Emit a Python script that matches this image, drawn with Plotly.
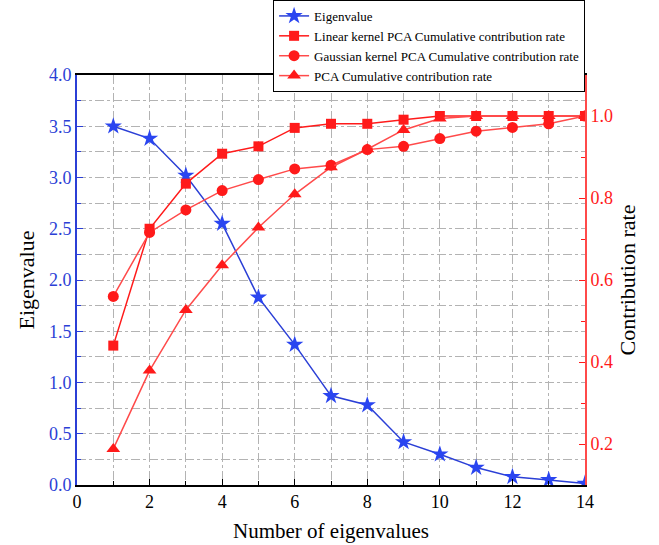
import plotly.graph_objects as go

# Number of eigenvalues retained
n = list(range(1, 15))

# Eigenvalue of each component
eigenvalue = [3.50, 3.38, 3.02, 2.55, 1.83, 1.37, 0.87, 0.78, 0.42, 0.30, 0.17, 0.08, 0.05, 0.015]

# Cumulative contribution rates
linear_kpca = [0.44, 0.725, 0.835, 0.908, 0.926, 0.971, 0.981, 0.981, 0.991, 1.0, 1.0, 1.0, 1.0, 1.0]
gaussian_kpca = [0.56, 0.716, 0.771, 0.818, 0.845, 0.871, 0.880, 0.918, 0.926, 0.945, 0.963, 0.972, 0.981, 1.0]
pca = [0.188, 0.379, 0.527, 0.636, 0.728, 0.809, 0.875, 0.919, 0.966, 0.994, 1.0, 1.0, 1.0, 1.0]

BLUE = "#2b3fd6"
BLUE_MK = "#2a45f0"
RED = "#ff1a1a"
RED_L = "#ff4a4a"
FONT = "Liberation Serif"
GRID = "#b3b3b3"

fig = go.Figure()

fig.add_trace(go.Scatter(
    x=n, y=eigenvalue, name="Eigenvalue", mode="lines+markers",
    line=dict(color=BLUE, width=1.5),
    marker=dict(symbol="star", size=13, color=BLUE_MK),
    yaxis="y",
))
fig.add_trace(go.Scatter(
    x=n, y=linear_kpca, name="Linear kernel PCA Cumulative contribution rate",
    mode="lines+markers",
    line=dict(color=RED, width=1.5),
    marker=dict(symbol="square", size=10, color=RED),
    yaxis="y2",
))
fig.add_trace(go.Scatter(
    x=n, y=gaussian_kpca, name="Gaussian kernel PCA Cumulative contribution rate",
    mode="lines+markers",
    line=dict(color=RED_L, width=1.5),
    marker=dict(symbol="circle", size=11, color=RED),
    yaxis="y2",
))
fig.add_trace(go.Scatter(
    x=n, y=pca, name="PCA Cumulative contribution rate",
    mode="lines+markers",
    line=dict(color=RED_L, width=1.5),
    marker=dict(symbol="triangle-up", size=12, color=RED),
    yaxis="y2",
))

grid = dict(showgrid=True, gridcolor=GRID, griddash="dashdot", gridwidth=1)

fig.update_layout(
    width=659, height=545,
    margin=dict(l=77, r=74, t=75, b=60, autoexpand=False),
    paper_bgcolor="white", plot_bgcolor="white",
    font=dict(family=FONT, size=16, color="black"),
    showlegend=True,
    legend=dict(
        x=0.386, y=1.183, xanchor="left", yanchor="top",
        bgcolor="white", bordercolor="black", borderwidth=1,
        font=dict(family=FONT, size=13, color="black"),
        tracegroupgap=0, itemwidth=30,
    ),
    xaxis=dict(
        range=[0, 14], dtick=2, tick0=0,
        showline=True, linecolor="black", linewidth=1.5, mirror=True,
        ticks="inside", ticklen=6, tickcolor="black",
        tickfont=dict(family=FONT, size=18, color="black"),
        title=dict(text="Number of eigenvalues", font=dict(family=FONT, size=21), standoff=12),
        zeroline=False,
        minor=dict(dtick=1, ticks="inside", ticklen=4, tickcolor="black",
                   showgrid=True, gridcolor=GRID, griddash="dashdot"),
        **grid,
    ),
    yaxis=dict(
        range=[0, 4], dtick=0.5, tickformat=".1f",
        showline=True, linecolor=BLUE, linewidth=2,
        ticks="inside", ticklen=6, tickcolor=BLUE,
        tickfont=dict(family=FONT, size=18, color=BLUE),
        title=dict(text="Eigenvalue", font=dict(family=FONT, size=22, color="black"), standoff=8),
        zeroline=False,
        minor=dict(dtick=0.25, ticks="inside", ticklen=4, tickcolor=BLUE,
                   showgrid=True, gridcolor=GRID, griddash="dashdot"),
        **grid,
    ),
    yaxis2=dict(
        range=[0.1, 1.1], dtick=0.2, tick0=0.2, tickformat=".1f",
        overlaying="y", side="right",
        showline=True, linecolor=RED_L, linewidth=2,
        ticks="inside", ticklen=6, tickcolor=RED,
        tickfont=dict(family=FONT, size=18, color=RED),
        title=dict(text="Contribution rate", font=dict(family=FONT, size=22, color="black"), standoff=8),
        showgrid=False, zeroline=False,
        minor=dict(dtick=0.1, tick0=0.1, ticks="inside", ticklen=4, tickcolor=RED),
    ),
)

fig.write_html("out.html")
